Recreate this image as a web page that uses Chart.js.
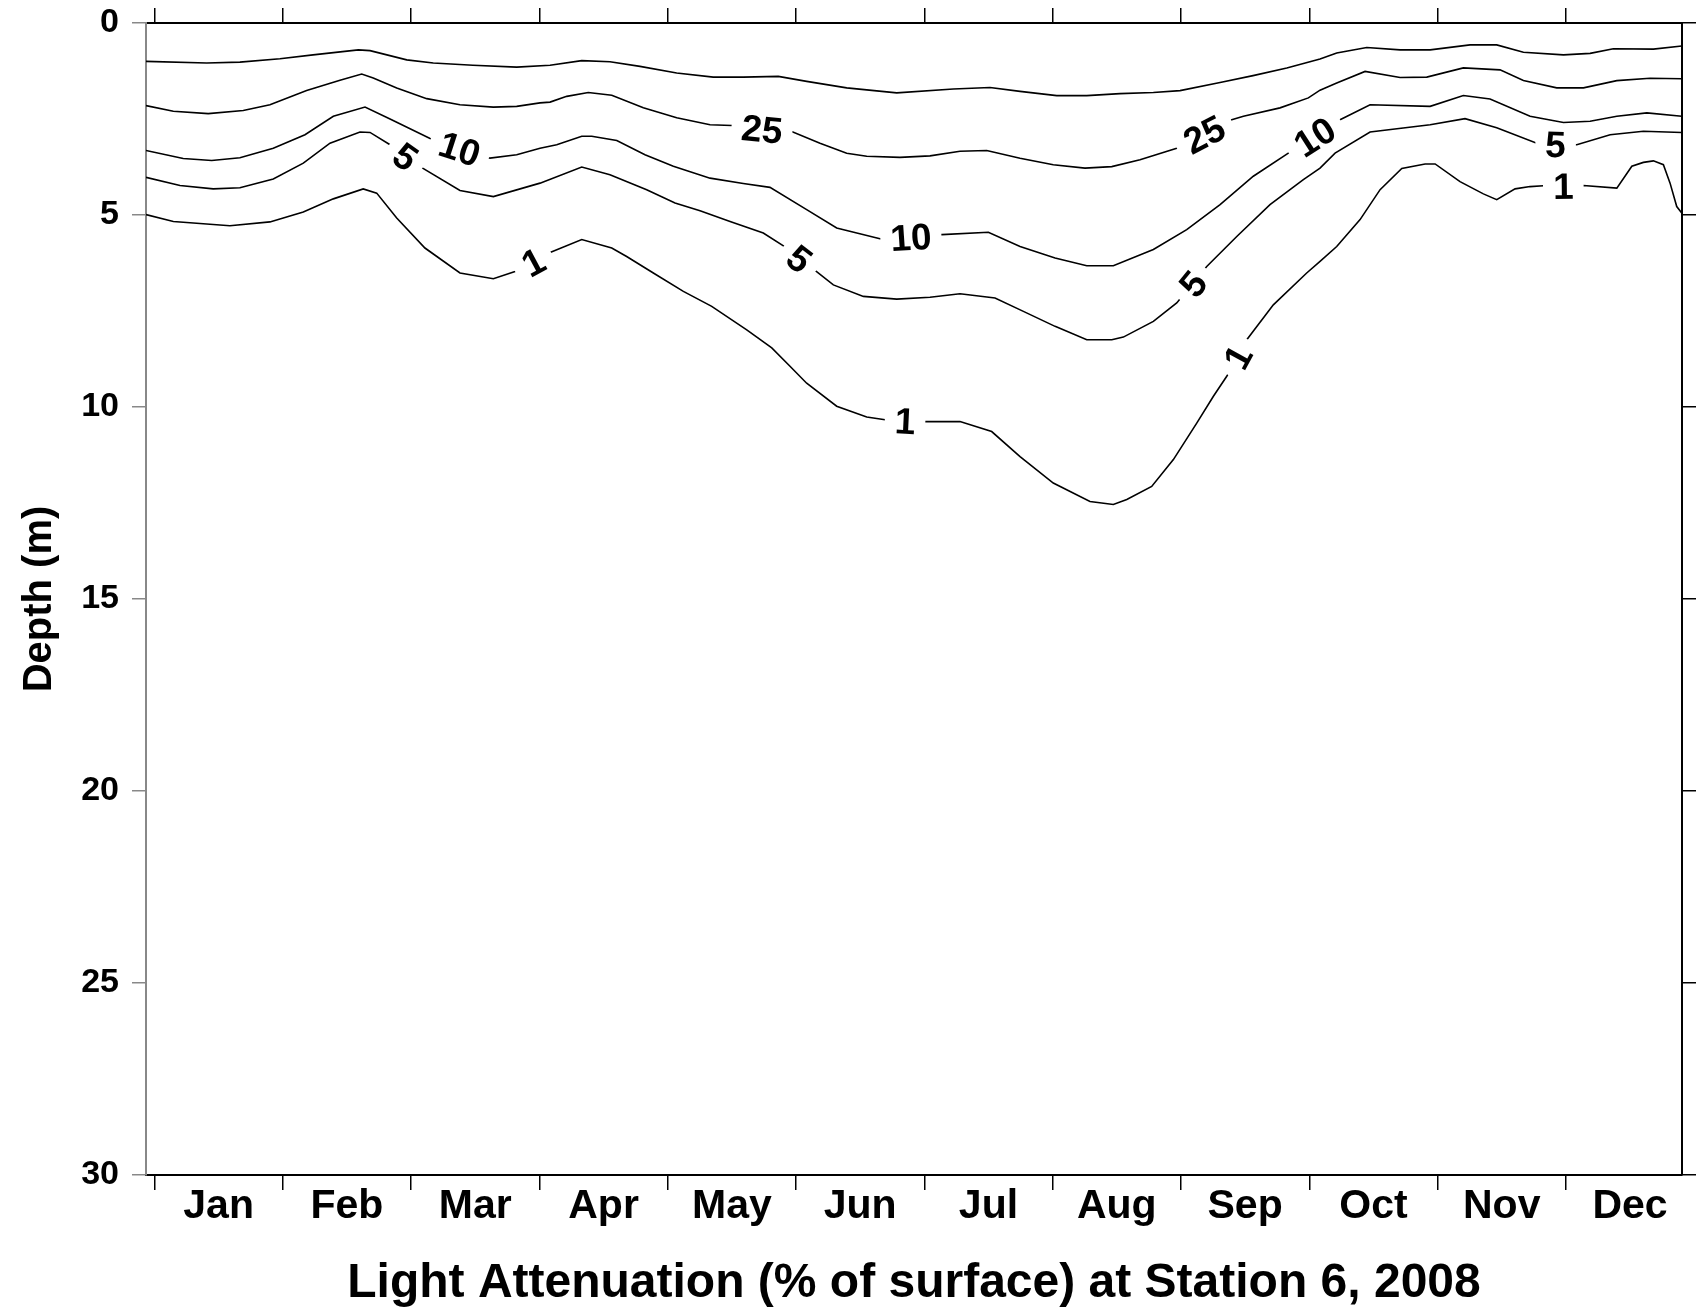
<!DOCTYPE html>
<html>
<head>
<meta charset="utf-8">
<title>Light Attenuation at Station 6, 2008</title>
<script src="https://cdn.jsdelivr.net/npm/chart.js@4.4.1/dist/chart.umd.min.js"></script>
<style>
  html, body { margin: 0; padding: 0; background: #fff; }
  canvas { display: block; }
</style>
</head>
<body>
<canvas id="lightChart" width="1706" height="1308"></canvas>
<script>
const months = ['Jan', 'Feb', 'Mar', 'Apr', 'May', 'Jun', 'Jul', 'Aug', 'Sep', 'Oct', 'Nov', 'Dec'];
const depthTicks = [0, 5, 10, 15, 20, 25, 30];

// time axis is in months counted from 1 Jan, depth in metres

// shallowest (unlabelled) isoline
const upperTime = [-0.066, 0.407, 0.666, 0.978, 1.236, 1.589, 1.680, 1.966, 2.173, 2.482, 2.823, 3.083, 3.330, 3.550, 3.784, 4.070, 4.355, 4.589, 4.862, 5.083, 5.395, 5.785, 6.226, 6.512, 6.746, 7.032, 7.266, 7.525, 7.785, 7.993, 8.305, 8.562, 8.825, 9.084, 9.214, 9.448, 9.708, 9.942, 10.253, 10.461, 10.669, 10.981, 11.189, 11.370, 11.682, 11.903];
const upperDepth = [1.00, 1.04, 1.02, 0.93, 0.83, 0.70, 0.72, 0.96, 1.04, 1.10, 1.15, 1.10, 0.98, 1.01, 1.13, 1.30, 1.41, 1.41, 1.39, 1.52, 1.69, 1.82, 1.72, 1.68, 1.78, 1.89, 1.89, 1.84, 1.81, 1.76, 1.55, 1.37, 1.17, 0.94, 0.78, 0.64, 0.70, 0.70, 0.57, 0.57, 0.76, 0.83, 0.79, 0.67, 0.68, 0.60];

// 25 % of surface light
const pct25Time = [-0.066, 0.147, 0.419, 0.692, 0.900, 1.186, 1.446, 1.615, 1.705, 1.888, 2.122, 2.381, 2.641, 2.823, 3.005, 3.083, 3.213, 3.381, 3.564, 3.810, 4.070, 4.330, 4.499, 4.971, 5.187, 5.395, 5.551, 5.810, 6.044, 6.278, 6.486, 6.746, 7.005, 7.252, 7.461, 7.681, 7.967, 8.396, 8.487, 8.772, 8.993, 9.084, 9.214, 9.435, 9.708, 9.916, 10.201, 10.487, 10.669, 10.929, 11.137, 11.397, 11.656, 11.903];
const pct25Depth = [2.15, 2.30, 2.36, 2.28, 2.13, 1.76, 1.49, 1.33, 1.43, 1.69, 1.97, 2.13, 2.19, 2.17, 2.08, 2.06, 1.91, 1.81, 1.88, 2.21, 2.47, 2.65, 2.67, 2.83, 3.13, 3.39, 3.47, 3.50, 3.46, 3.34, 3.32, 3.52, 3.69, 3.78, 3.74, 3.56, 3.26, 2.52, 2.43, 2.21, 1.95, 1.75, 1.56, 1.26, 1.42, 1.41, 1.17, 1.22, 1.50, 1.69, 1.69, 1.50, 1.44, 1.45];
const pct25LabelAt = [4.735, 8.18];

// 10 %
const pct10Time = [-0.066, 0.224, 0.446, 0.666, 0.926, 1.173, 1.394, 1.641, 1.836, 2.148, 2.615, 2.823, 3.005, 3.135, 3.330, 3.408, 3.603, 3.823, 4.044, 4.330, 4.589, 4.797, 5.083, 5.317, 5.654, 6.136, 6.499, 6.746, 7.019, 7.266, 7.473, 7.785, 8.045, 8.305, 8.564, 8.837, 9.240, 9.474, 9.942, 10.201, 10.409, 10.721, 10.981, 11.189, 11.397, 11.631, 11.903];
const pct10Depth = [3.32, 3.53, 3.58, 3.51, 3.26, 2.91, 2.43, 2.19, 2.50, 3.01, 3.52, 3.43, 3.26, 3.17, 2.95, 2.95, 3.06, 3.43, 3.73, 4.04, 4.18, 4.28, 4.86, 5.34, 5.62, 5.51, 5.45, 5.82, 6.12, 6.32, 6.32, 5.90, 5.38, 4.73, 3.99, 3.39, 2.52, 2.13, 2.17, 1.89, 1.98, 2.43, 2.59, 2.56, 2.43, 2.34, 2.43];
const pct10LabelAt = [2.38, 5.895, 9.04];

// 5 %
const pct5Time = [-0.066, 0.199, 0.458, 0.666, 0.926, 1.160, 1.368, 1.602, 1.680, 1.836, 2.090, 2.381, 2.641, 3.005, 3.330, 3.550, 3.836, 4.057, 4.252, 4.486, 4.745, 4.914, 5.148, 5.291, 5.525, 5.785, 6.044, 6.278, 6.551, 6.772, 7.019, 7.266, 7.461, 7.551, 7.785, 7.967, 8.201, 8.435, 8.694, 8.954, 9.084, 9.201, 9.474, 9.942, 10.214, 10.461, 10.773, 11.085, 11.345, 11.604, 11.903];
const pct5Depth = [4.02, 4.23, 4.32, 4.29, 4.06, 3.65, 3.13, 2.84, 2.85, 3.17, 3.78, 4.36, 4.52, 4.17, 3.75, 3.95, 4.34, 4.69, 4.89, 5.17, 5.47, 5.83, 6.44, 6.82, 7.12, 7.19, 7.14, 7.05, 7.16, 7.51, 7.90, 8.25, 8.25, 8.18, 7.77, 7.29, 6.34, 5.56, 4.73, 4.08, 3.78, 3.39, 2.84, 2.65, 2.49, 2.73, 3.13, 3.17, 2.91, 2.82, 2.85];
const pct5LabelAt = [1.96, 5.03, 8.09, 10.92];

// 1 %
const pct1Time = [-0.066, 0.147, 0.588, 0.900, 1.160, 1.394, 1.627, 1.732, 1.888, 2.108, 2.381, 2.641, 2.810, 3.088, 3.330, 3.564, 3.680, 3.888, 4.122, 4.343, 4.616, 4.811, 4.953, 5.083, 5.317, 5.551, 5.694, 6.006, 6.278, 6.525, 6.746, 7.005, 7.291, 7.473, 7.578, 7.772, 7.941, 8.123, 8.253, 8.357, 8.513, 8.720, 8.980, 9.084, 9.214, 9.396, 9.552, 9.721, 9.903, 9.981, 10.175, 10.357, 10.461, 10.604, 10.721, 10.825, 11.137, 11.397, 11.514, 11.604, 11.682, 11.760, 11.812, 11.864, 11.903];
const pct1Depth = [4.99, 5.17, 5.28, 5.18, 4.92, 4.58, 4.32, 4.43, 5.08, 5.86, 6.51, 6.66, 6.47, 5.97, 5.64, 5.86, 6.08, 6.51, 6.99, 7.38, 7.99, 8.46, 8.94, 9.38, 9.98, 10.26, 10.33, 10.38, 10.38, 10.64, 11.29, 11.98, 12.46, 12.54, 12.41, 12.07, 11.37, 10.42, 9.72, 9.20, 8.25, 7.34, 6.51, 6.21, 5.82, 5.12, 4.34, 3.79, 3.67, 3.67, 4.13, 4.45, 4.60, 4.32, 4.26, 4.24, 4.23, 4.30, 3.73, 3.63, 3.59, 3.69, 4.17, 4.78, 4.95];
const pct1LabelAt = [2.95, 5.85, 8.44, 10.98];

const contours = [
    { level: null, time: upperTime, depth: upperDepth, labelAt: [] },
    { level: 25, time: pct25Time, depth: pct25Depth, labelAt: pct25LabelAt },
    { level: 10, time: pct10Time, depth: pct10Depth, labelAt: pct10LabelAt },
    { level: 5, time: pct5Time, depth: pct5Depth, labelAt: pct5LabelAt },
    { level: 1, time: pct1Time, depth: pct1Depth, labelAt: pct1LabelAt }
];

const FONT = '"Liberation Sans", Arial, Helvetica, sans-serif';
const LABEL_SIZE = 37;
const labelFont = 'bold ' + LABEL_SIZE + 'px ' + FONT;

Chart.defaults.font.family = FONT;
Chart.defaults.font.weight = 'bold';
Chart.defaults.color = '#000';

// where each level label sits, and at what angle, in canvas pixels
function contourLabelBoxes(chart) {
    const xs = chart.scales.x;
    const ys = chart.scales.y;
    const ctx = chart.ctx;
    const boxes = [];
    ctx.save();
    ctx.font = labelFont;
    contours.forEach(function (c) {
        c.labelAt.forEach(function (t) {
            let i = 0;
            while (i < c.time.length - 2 && c.time[i + 1] < t) i++;
            const x0 = xs.getPixelForValue(c.time[i]);
            const y0 = ys.getPixelForValue(c.depth[i]);
            const x1 = xs.getPixelForValue(c.time[i + 1]);
            const y1 = ys.getPixelForValue(c.depth[i + 1]);
            const x = xs.getPixelForValue(t);
            const y = y0 + (x - x0) / (x1 - x0) * (y1 - y0);
            const text = String(c.level);
            boxes.push({
                x: x,
                y: y,
                angle: Math.atan2(y1 - y0, x1 - x0),
                text: text,
                width: ctx.measureText(text).width
            });
        });
    });
    ctx.restore();
    return boxes;
}

// cut the lines where a label goes, then write the label along the line
const contourLabels = {
    id: 'contourLabels',
    beforeDatasetsDraw(chart) {
        const ctx = chart.ctx;
        const boxes = contourLabelBoxes(chart);
        chart.$contourBoxes = boxes;
        ctx.save();
        ctx.beginPath();
        ctx.rect(0, 0, chart.width, chart.height);
        boxes.forEach(function (b) {
            const hw = b.width / 2 + 10;
            const hh = LABEL_SIZE * 0.36 + 4;
            const cos = Math.cos(b.angle);
            const sin = Math.sin(b.angle);
            const corners = [[-hw, -hh], [hw, -hh], [hw, hh], [-hw, hh]].map(function (p) {
                return [b.x + p[0] * cos - p[1] * sin, b.y + p[0] * sin + p[1] * cos];
            });
            ctx.moveTo(corners[0][0], corners[0][1]);
            for (let k = 1; k < 4; k++) ctx.lineTo(corners[k][0], corners[k][1]);
            ctx.closePath();
        });
        ctx.clip('evenodd');
    },
    afterDatasetsDraw(chart) {
        const ctx = chart.ctx;
        ctx.restore();
        ctx.save();
        ctx.font = labelFont;
        ctx.fillStyle = '#000';
        ctx.textAlign = 'center';
        ctx.textBaseline = 'alphabetic';
        chart.$contourBoxes.forEach(function (b) {
            ctx.save();
            ctx.translate(b.x, b.y);
            ctx.rotate(b.angle);
            ctx.fillText(b.text, 0, LABEL_SIZE * 0.358);
            ctx.restore();
        });
        ctx.restore();
    }
};

function fixBox(size) {
    return function (scale) {
        if (scale.isHorizontal()) {
            scale.height = size;
        } else {
            scale.width = size;
        }
        scale.paddingTop = 0;
        scale.paddingBottom = 0;
        scale.paddingLeft = 0;
        scale.paddingRight = 0;
    };
}

const timeMin = -0.066;
const timeMax = 11.905;

function isMonthStart(value) {
    return Math.abs(value - Math.round(value)) < 1e-6;
}

const ctx = document.getElementById('lightChart').getContext('2d');

const lightChart = new Chart(ctx, {
    type: 'line',
    data: {
        datasets: contours.map(function (c) {
            return {
                label: c.level === null ? 'upper' : c.level + '%',
                data: c.time.map(function (t, i) { return { x: t, y: c.depth[i] }; }),
                borderColor: '#000',
                borderWidth: 1.6,
                pointRadius: 0,
                tension: 0,
                fill: false
            };
        })
    },
    options: {
        responsive: false,
        animation: false,
        devicePixelRatio: 1,
        layout: { padding: 0, autoPadding: false },
        plugins: {
            legend: { display: false },
            tooltip: { enabled: false }
        },
        scales: {
            x: {
                type: 'linear',
                position: 'bottom',
                min: timeMin,
                max: timeMax,
                afterBuildTicks: function (scale) {
                    const ticks = [];
                    months.forEach(function (m, i) {
                        ticks.push({ value: i });
                        ticks.push({ value: i + 0.5 });
                    });
                    scale.ticks = ticks;
                },
                afterFit: fixBox(133),
                ticks: {
                    autoSkip: false,
                    maxRotation: 0,
                    minRotation: 0,
                    padding: -4,
                    font: { size: 41, weight: 'bold', lineHeight: 1 },
                    callback: function (value) {
                        return isMonthStart(value) ? '' : months[Math.floor(value)];
                    }
                },
                grid: {
                    drawOnChartArea: false,
                    drawTicks: true,
                    tickLength: 15,
                    lineWidth: 1.5,
                    color: function (c) {
                        return c.tick && isMonthStart(c.tick.value) ? '#000' : 'rgba(0,0,0,0)';
                    }
                },
                border: { display: true, color: '#000', width: 2 },
                title: {
                    display: true,
                    text: 'Light Attenuation (% of surface) at Station 6, 2008',
                    font: { size: 48, weight: 'bold', lineHeight: 1 },
                    padding: { top: 0, bottom: 0 }
                }
            },
            xTop: {
                type: 'linear',
                position: 'top',
                min: timeMin,
                max: timeMax,
                afterBuildTicks: function (scale) {
                    scale.ticks = months.map(function (m, i) { return { value: i }; });
                },
                afterFit: fixBox(23),
                ticks: {
                    autoSkip: false,
                    maxRotation: 0,
                    padding: 0,
                    font: { size: 10 },
                    callback: function () { return ''; }
                },
                grid: {
                    drawOnChartArea: false,
                    drawTicks: true,
                    tickLength: 15,
                    lineWidth: 1.5,
                    color: '#000'
                },
                border: { display: true, color: '#000', width: 2 }
            },
            y: {
                type: 'linear',
                position: 'left',
                reverse: true,
                min: 0,
                max: 30,
                afterBuildTicks: function (scale) {
                    scale.ticks = depthTicks.map(function (v) { return { value: v }; });
                },
                afterFit: fixBox(146),
                ticks: {
                    padding: 13,
                    font: { size: 34, weight: 'bold' }
                },
                grid: {
                    drawOnChartArea: false,
                    drawTicks: true,
                    tickLength: 14,
                    lineWidth: 1.5,
                    color: '#888'
                },
                border: { display: true, color: '#888', width: 2 },
                title: {
                    display: true,
                    text: 'Depth (m)',
                    font: { size: 40, weight: 'bold', lineHeight: 1 },
                    padding: { top: 20, bottom: 0 }
                }
            },
            yRight: {
                type: 'linear',
                position: 'right',
                reverse: true,
                min: 0,
                max: 30,
                afterBuildTicks: function (scale) {
                    scale.ticks = depthTicks.map(function (v) { return { value: v }; });
                },
                afterFit: fixBox(24),
                ticks: {
                    padding: 0,
                    font: { size: 10 },
                    callback: function () { return ''; }
                },
                grid: {
                    drawOnChartArea: false,
                    drawTicks: true,
                    tickLength: 14,
                    lineWidth: 1.5,
                    color: '#000'
                },
                border: { display: true, color: '#000', width: 2 }
            }
        }
    },
    plugins: [contourLabels]
});
</script>
</body>
</html>
